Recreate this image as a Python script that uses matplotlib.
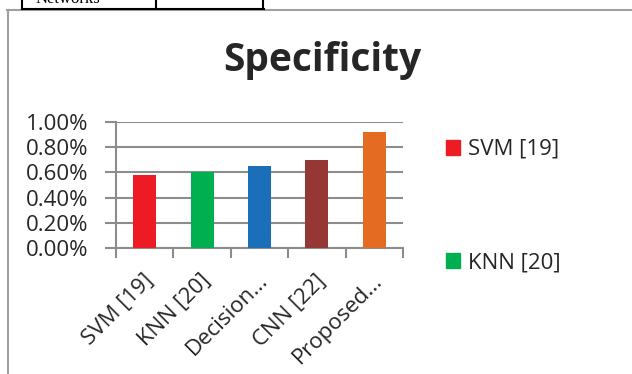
"""
Specificity bar chart (Excel-style) with the cropped table edge above it.
"""

import matplotlib.pyplot as plt
from matplotlib.lines import Line2D
from matplotlib.patches import Patch
from matplotlib.ticker import PercentFormatter

# -----------------------------------------------------------------------------
# Data
# -----------------------------------------------------------------------------
methods = ["SVM [19]", "KNN [20]", "Decision...", "CNN [22]", "Proposed..."]
specificity = [0.0058, 0.0060, 0.0065, 0.0070, 0.0092]
bar_colors = ["#ED1C24", "#00B050", "#1B6EB8", "#953735", "#E46C22"]
y_ticks = [0.0, 0.002, 0.004, 0.006, 0.008, 0.010]

W, H = 632, 374
GRID = "#8C8C8C"
TEXT = "#262626"
FS = 16

plt.rcParams["font.family"] = ["Open Sans", "DejaVu Sans"]

fig = plt.figure(figsize=(W / 100, H / 100), dpi=100)

# plot area in pixels: left 116, right 403, top 122, bottom 248
ax = fig.add_axes([116 / W, (H - 248) / H, (403 - 116) / W, (248 - 122) / H])

x = list(range(len(methods)))
ax.bar(x, specificity, width=0.4, color=bar_colors, zorder=3)

ax.set_xlim(-0.5, len(methods) - 0.5)
ax.set_ylim(0, 0.010)
ax.set_yticks(y_ticks)
ax.yaxis.set_major_formatter(PercentFormatter(xmax=1, decimals=2))
ax.grid(axis="y", color=GRID, linewidth=1.5, zorder=0)
ax.tick_params(axis="y", length=8, width=1.5, color=GRID, labelsize=FS,
               labelcolor=TEXT, pad=12)

# category boundaries carry the ticks, labels sit under the bar centres
ax.set_xticks([i - 0.5 for i in range(len(methods) + 1)])
ax.set_xticklabels([])
ax.tick_params(axis="x", length=7, width=1.5, color=GRID)
for xi, name in zip(x, methods):
    ax.annotate(name, xy=(xi, 0), xycoords=("data", "axes fraction"),
                xytext=(-2, -22), textcoords="offset pixels",
                rotation=45, ha="right", va="top", rotation_mode="anchor",
                fontsize=FS, color=TEXT)

for side in ("top", "right"):
    ax.spines[side].set_visible(False)
ax.spines["left"].set_color(GRID)
ax.spines["left"].set_linewidth(1.5)
ax.spines["bottom"].set_color(GRID)
ax.spines["bottom"].set_linewidth(1.5)

fig.text(322 / W, 1 - 60 / H, "Specificity", ha="center", va="center",
         fontsize=28, fontweight="bold", color=TEXT)

# Excel only fits the first two legend entries
handles = [Patch(color=bar_colors[0]), Patch(color=bar_colors[1])]
fig.legend(handles, methods[:2], loc="upper left",
           bbox_to_anchor=(426 / W, 1 - 119 / H), frameon=False,
           fontsize=FS, handlelength=0.65, handleheight=0.65, handletextpad=0.35,
           labelspacing=4.15, labelcolor=TEXT)

# chart frame (left and top edge visible)
fig.add_artist(Line2D([7.5 / W, 7.5 / W], [0, 1 - 10 / H], color="#A0A0A0", lw=1.5))
fig.add_artist(Line2D([7 / W, 1], [1 - 10 / H, 1 - 10 / H], color="#A0A0A0", lw=1.5))

# bottom of the table that sits above the chart on the page
for px in (22, 156, 263):
    fig.add_artist(Line2D([px / W, px / W], [1 - 9 / H, 1], color="black", lw=1.5))
fig.add_artist(Line2D([22 / W, 263.5 / W], [1 - 9 / H, 1 - 9 / H], color="black", lw=1.5))
fig.text(36 / W, 1 - 3 / H, "Networks", ha="left", va="baseline",
         fontsize=12, family="Liberation Serif", color="black")

fig.savefig("out.png", dpi=100)
